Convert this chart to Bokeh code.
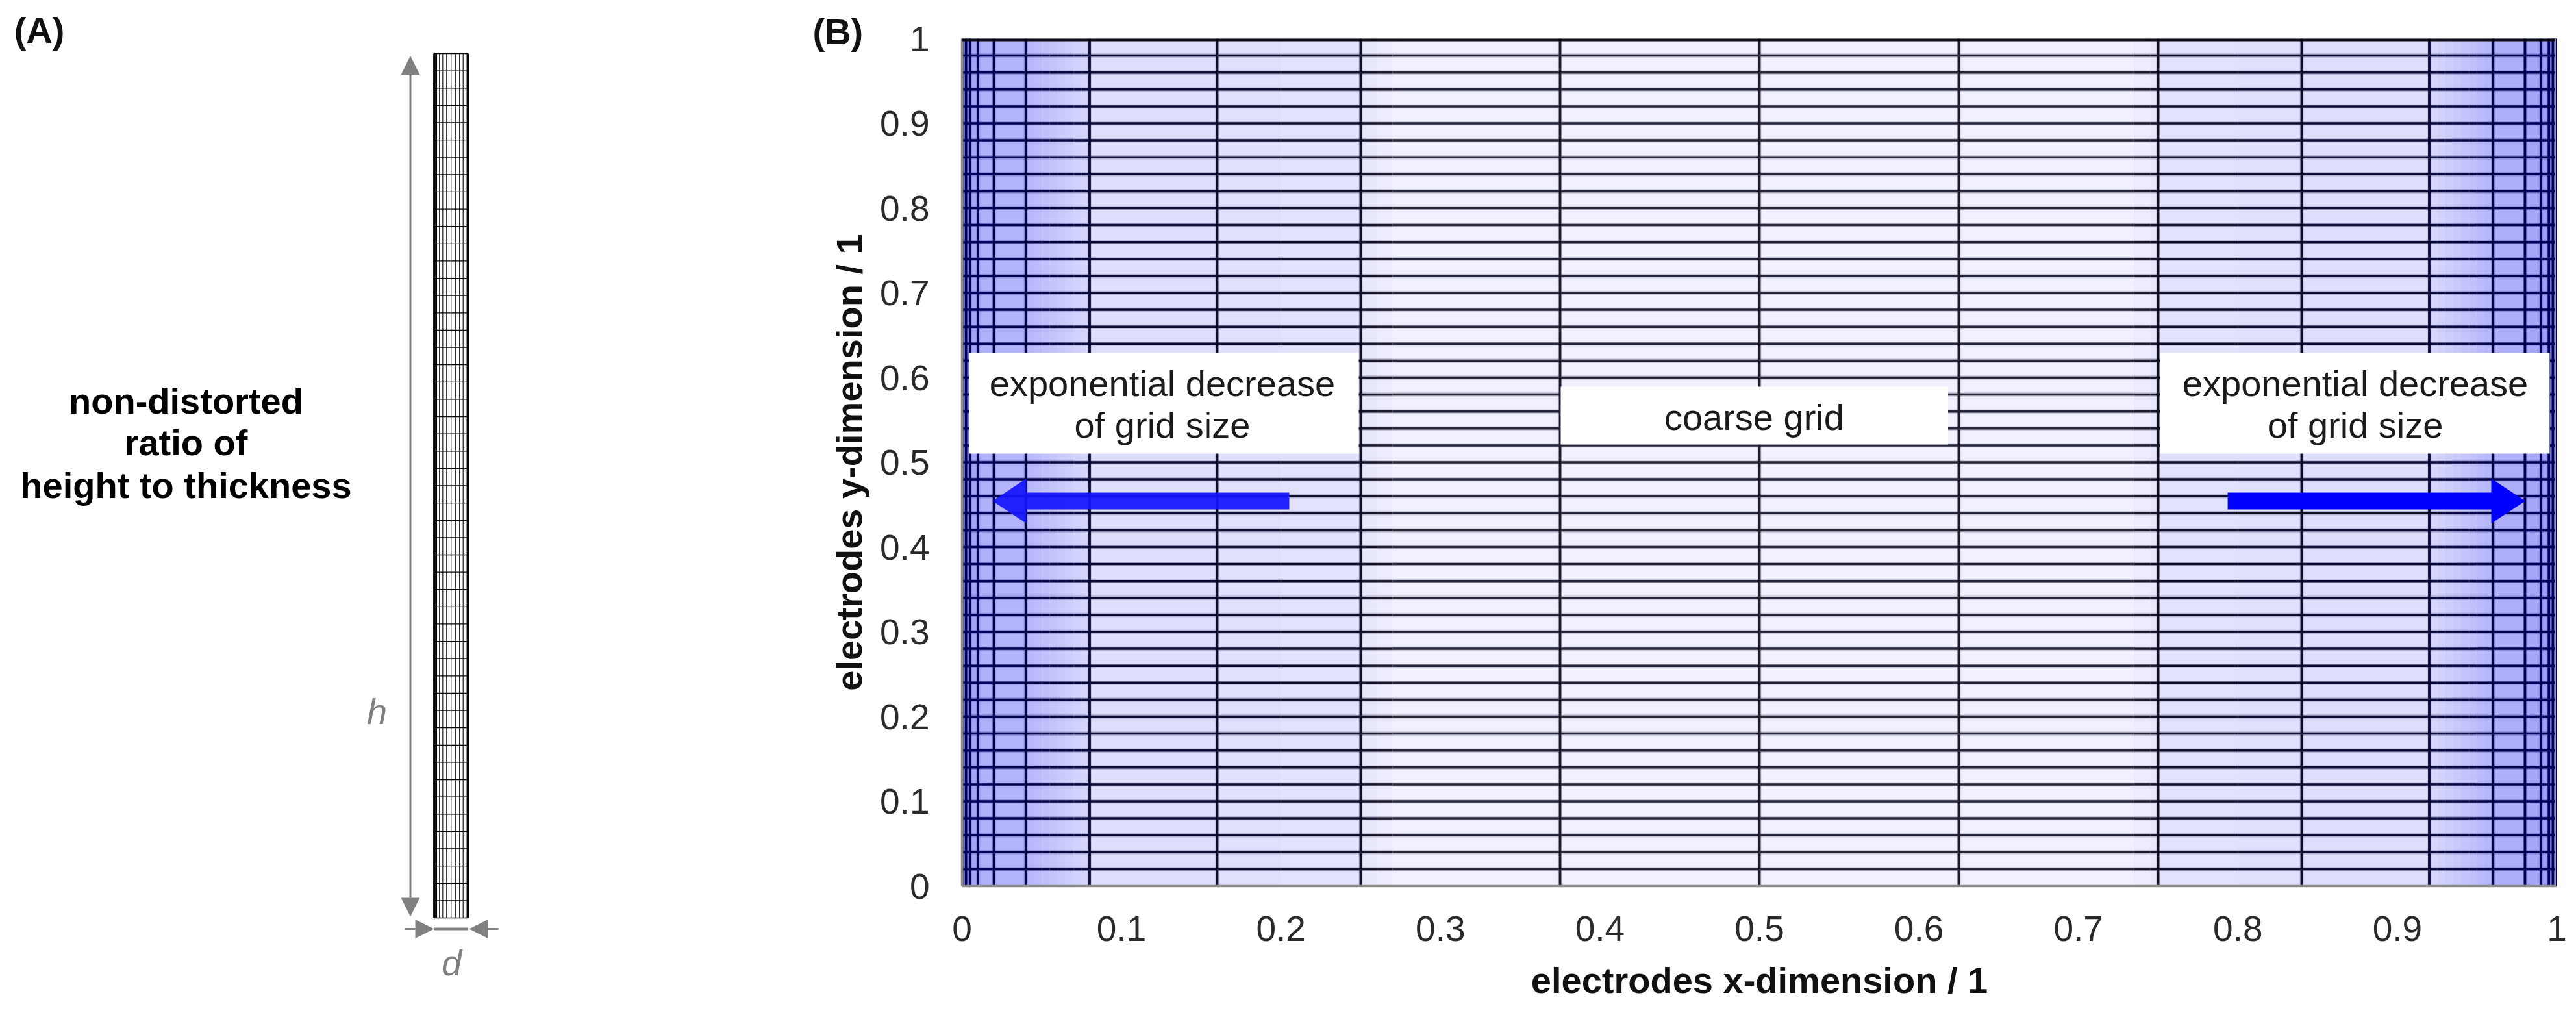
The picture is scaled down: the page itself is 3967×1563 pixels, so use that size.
from bokeh.plotting import figure
from bokeh.models import Range1d, Label, Arrow, NormalHead, FixedTicker, Span, Title
from bokeh.layouts import row
from bokeh.embed import file_html
from bokeh.resources import INLINE

# grid lines of both panels, normalised
y_lines = [0, 0.02, 0.04, 0.06, 0.08, 0.1, 0.12, 0.14, 0.16, 0.18, 0.2, 0.22, 0.24, 0.26, 0.28, 0.3, 0.32,
           0.34, 0.36, 0.38, 0.4, 0.42, 0.44, 0.46, 0.48, 0.5, 0.52, 0.54, 0.56, 0.58, 0.6, 0.62, 0.64, 0.66,
           0.68, 0.7, 0.72, 0.74, 0.76, 0.78, 0.8, 0.82, 0.84, 0.86, 0.88, 0.9, 0.92, 0.94, 0.96, 0.98, 1]
x_lines_a = [0, 0.068, 0.151, 0.249, 0.365, 0.5, 0.636, 0.752, 0.858, 0.942, 1]
x_lines_b = [0, 0.0025, 0.005, 0.01, 0.02, 0.04, 0.08, 0.16, 0.25, 0.375, 0.5, 0.625, 0.75,
             0.84, 0.92, 0.96, 0.98, 0.99, 0.995, 0.9975, 1]

# shading bands of panel B (left edges, right edges)
band_left = [0, 0.005, 0.01, 0.02, 0.04, 0.045, 0.05, 0.055, 0.06, 0.065, 0.07, 0.075, 0.08, 0.16, 0.2, 0.25, 0.26,
             0.27, 0.735, 0.745, 0.75, 0.8, 0.84, 0.92, 0.925, 0.93, 0.935, 0.94, 0.945, 0.95, 0.955, 0.96, 0.98,
             0.99, 0.995]
band_right = [0.005, 0.01, 0.02, 0.04, 0.045, 0.05, 0.055, 0.06, 0.065, 0.07, 0.075, 0.08, 0.16, 0.2, 0.25, 0.26,
              0.27, 0.735, 0.745, 0.75, 0.8, 0.84, 0.92, 0.925, 0.93, 0.935, 0.94, 0.945, 0.95, 0.955, 0.96, 0.98,
              0.99, 0.995, 1]
band_fill = ["#a0a0f9", "#a8a8fa", "#b0b0fb", "#b4b4fc", "#b8b8fc", "#bcbcfc", "#c0c0fc", "#c4c4fc", "#c9c9fc",
             "#cecefc", "#d2d2fc", "#d6d6fc", "#dedefd", "#e0e0fd", "#e2e2fd", "#e8e8fd", "#ececfe", "#f0f0fe",
             "#ececfe", "#e8e8fd", "#e2e2fd", "#e0e0fd", "#dedefd", "#d6d6fc", "#d2d2fc", "#cecefc", "#c9c9fc",
             "#c4c4fc", "#c0c0fb", "#bbbbfb", "#b6b6fb", "#aeaefa", "#a6a6f9", "#9e9ef8", "#9494f7"]
band_line = ["#00005a", "#00005a", "#00005a", "#00004e", "#020248", "#030346", "#040444", "#050542", "#060640",
             "#07073e", "#08083c", "#09093a", "#0c0c34", "#0e0e30", "#10102c", "#14142c", "#1a1a2c", "#26263a",
             "#1a1a2c", "#14142c", "#10102c", "#0e0e30", "#0c0c34", "#09093a", "#08083c", "#07073e", "#060640",
             "#050542", "#040444", "#030346", "#020248", "#00004e", "#00005a", "#00005a", "#00005a"]
x_line_colour = ["#00005a", "#00005a", "#00005a", "#00005a", "#00004e", "#040446", "#0a0a38", "#0c0c2c", "#101020",
                 "#1c1c2c", "#1c1c2c", "#1c1c2c", "#101020", "#0c0c2c", "#0a0a38", "#040446", "#00004e", "#00005a",
                 "#00005a", "#00005a", "#00005a"]

x_ticks = [0, 0.1, 0.2, 0.3, 0.4, 0.5, 0.6, 0.7, 0.8, 0.9, 1]
tick_labels = ["0", "0.1", "0.2", "0.3", "0.4", "0.5", "0.6", "0.7", "0.8", "0.9", "1"]

# white note boxes on panel B
box_left = [0.0045, 0.3754, 0.7512]
box_right = [0.2488, 0.6183, 0.9955]
box_bottom = [0.5103, 0.5211, 0.5103]
box_top = [0.6291, 0.5893, 0.6291]

FONT = "Liberation Sans"
GREY = "#808080"

# --- panel A: page pixels of the mesh set the ranges
WA, HA = 1208, 1555
MX0, MX1, MY0, MY1 = 668.5, 720.0, 1413.0, 82.0


def ax(px):
    return (px - MX0) / (MX1 - MX0)


def ay(py):
    return (MY0 - py) / (MY0 - MY1)


a = figure(width=WA, height=HA, output_backend="svg", toolbar_location=None,
           x_range=Range1d(ax(0), ax(WA)), y_range=Range1d(ay(HA), ay(0)),
           min_border=0, outline_line_color=None, x_axis_location=None, y_axis_location=None)
a.frame_align = False
a.grid.visible = False

a.segment([0] * len(y_lines), y_lines, [1] * len(y_lines), y_lines, line_color="black", line_width=1.3)
a.segment(x_lines_a, [0] * len(x_lines_a), x_lines_a, [1] * len(x_lines_a), line_color="black", line_width=1.1)
a.segment([0, 1], [0, 0], [0, 1], [1, 1], line_color="black", line_width=3.8)

head_h = dict(size=29, fill_color=GREY, line_color=GREY, line_width=0)
a.add_layout(Arrow(start=NormalHead(**head_h), end=NormalHead(**head_h), x_start=ax(631.5), x_end=ax(631.5),
                   y_start=ay(1411), y_end=ay(85.5), line_color=GREY, line_width=3))
a.add_layout(Arrow(end=NormalHead(**head_h), x_start=ax(623), x_end=ax(668), y_start=ay(1430), y_end=ay(1430),
                   line_color=GREY, line_width=3))
a.add_layout(Arrow(end=NormalHead(**head_h), x_start=ax(767), x_end=ax(722), y_start=ay(1430), y_end=ay(1430),
                   line_color=GREY, line_width=3))
a.segment([0], [ay(1430)], [1], [ay(1430)], line_color=GREY, line_width=4)


def label_a(text, px, py, **kw):
    opts = dict(text_font=FONT, text_font_size="56px", text_align="center", text_baseline="alphabetic")
    opts.update(kw)
    a.add_layout(Label(x=ax(px), y=ay(py), text=text, **opts))


label_a("(A)", 60, 46, text_font_style="bold", text_color="#111111")
label_a("non-distorted", 286, 617, text_font_style="bold", text_color="black")
label_a("ratio of", 286, 681, text_font_style="bold", text_color="black")
label_a("height to thickness", 286, 747, text_font_style="bold", text_color="black")
label_a("h", 580, 1095, text_font_style="italic", text_color=GREY)
label_a("d", 695, 1482, text_font_style="italic", text_color=GREY)

# --- panel B
b = figure(width=2751, height=HA, output_backend="svg", toolbar_location=None,
           x_range=Range1d(0, 1), y_range=Range1d(0, 1),
           min_border_left=273, min_border_right=22, min_border_top=59, min_border_bottom=191,
           outline_line_color=None, x_axis_label="electrodes x-dimension / 1",
           y_axis_label="electrodes y-dimension / 1")
b.frame_align = False
b.grid.visible = False
b.title = Title(text="(B)", align="left", offset=-230, standoff=-40, text_font=FONT, text_font_size="56px",
                text_font_style="bold", text_color="#111111")

b.quad(left=band_left, right=band_right, bottom=0, top=1, fill_color=band_fill, line_color=band_fill, line_width=0.5)

# horizontal lines are split by band so they pick up the tint of what is under them
seg_x0, seg_x1, seg_y, seg_c = [], [], [], []
for y in y_lines[1:-1]:
    for x0, x1, c in zip(band_left, band_right, band_line):
        seg_x0.append(x0)
        seg_x1.append(x1)
        seg_y.append(y)
        seg_c.append(c)
b.segment(seg_x0, seg_y, seg_x1, seg_y, line_color=seg_c, line_width=6.5, line_alpha=0.2)
b.segment(seg_x0, seg_y, seg_x1, seg_y, line_color=seg_c, line_width=3.5)

b.segment(x_lines_b, [0] * len(x_lines_b), x_lines_b, [1] * len(x_lines_b), line_color=x_line_colour,
          line_width=6.5, line_alpha=0.12)
b.segment(x_lines_b, [0] * len(x_lines_b), x_lines_b, [1] * len(x_lines_b), line_color=x_line_colour, line_width=3.8)

b.quad(left=box_left, right=box_right, bottom=box_bottom, top=box_top, fill_color="white", line_color=None)

# blue arrows
b.patch([0.2052, 0.0403, 0.0403, 0.0191, 0.0403, 0.0403, 0.2052],
        [0.4444, 0.4444, 0.4280, 0.4544, 0.4808, 0.4644, 0.4644], fill_color="#1414ff", fill_alpha=0.93, line_color=None)
b.patch([0.7936, 0.9589, 0.9589, 0.9802, 0.9589, 0.9589, 0.7936],
        [0.4444, 0.4444, 0.4280, 0.4544, 0.4808, 0.4644, 0.4644], fill_color="#0000ff", line_color=None)

b.add_layout(Span(location=1, dimension="width", line_color="#0a0a14", line_width=8))
b.add_layout(Span(location=1, dimension="height", line_color="#9a9a9a", line_width=6))
b.add_layout(Span(location=1, dimension="height", line_color="#000050", line_width=3))

for axis, standoff, label_standoff in ((b.xaxis[0], 40, 26), (b.yaxis[0], 44, 13)):
    axis.ticker = FixedTicker(ticks=x_ticks)
    axis.major_label_overrides = dict(zip(x_ticks, tick_labels))
    axis.major_tick_line_color = None
    axis.minor_tick_line_color = None
    axis.axis_line_color = "#8c8c8c"
    axis.axis_line_width = 3.5
    axis.major_label_standoff = standoff
    axis.major_label_text_font = FONT
    axis.major_label_text_font_size = "55px"
    axis.major_label_text_color = "#2a2a2a"
    axis.axis_label_standoff = label_standoff
    axis.axis_label_text_font = FONT
    axis.axis_label_text_font_size = "56px"
    axis.axis_label_text_font_style = "bold"
    axis.axis_label_text_color = "#111111"


def note(text, x, y, **kw):
    opts = dict(text_font=FONT, text_font_size="56px", text_align="center", text_baseline="alphabetic",
                text_color="#1a1a1a")
    opts.update(kw)
    b.add_layout(Label(x=x, y=y, text=text, **opts))


note("exponential decrease", 0.1256, 0.5930)
note("of grid size", 0.1256, 0.5440)
note("coarse grid", 0.4967, 0.5533)
note("exponential decrease", 0.8736, 0.5930)
note("of grid size", 0.8736, 0.5440)

page = row(a, b, spacing=0)
open("out.html", "w").write(file_html(page, INLINE))
